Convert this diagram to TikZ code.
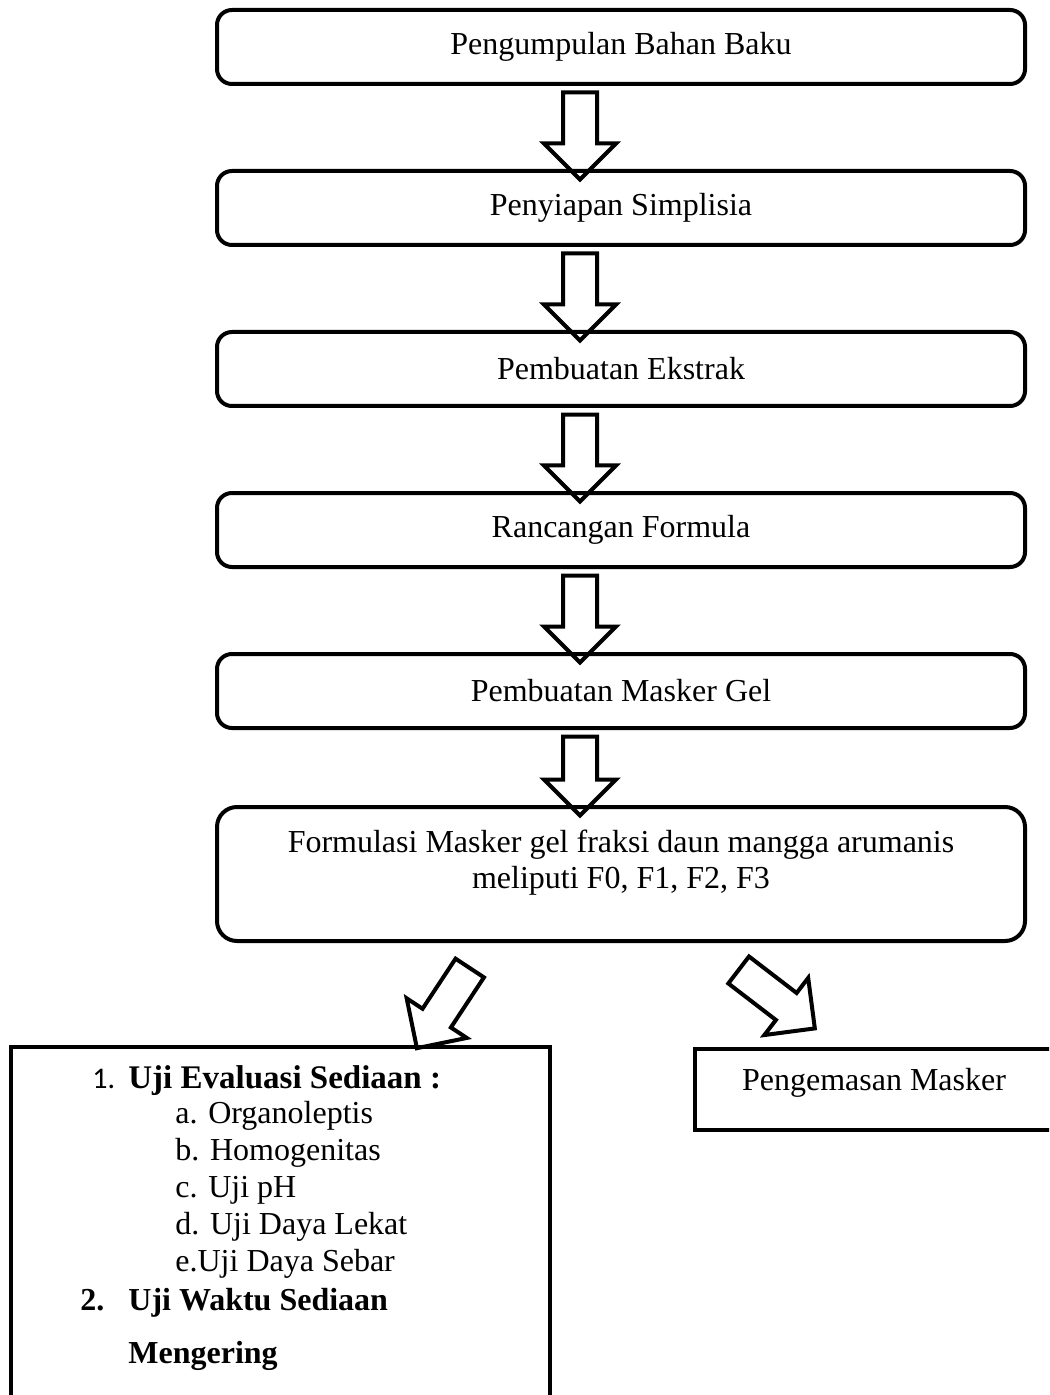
\documentclass[tikz,border=0pt]{standalone}
\usepackage{fontspec}
\setmainfont{Liberation Serif}
\newfontfamily\numfont{Carlito}
\usetikzlibrary{shapes.arrows, positioning, calc}
\tikzstyle{block} = [rectangle, draw, line width=2pt, rounded corners=7.5pt, minimum width=404pt, minimum height=37pt, align=center, font=\fontsize{16}{18}\selectfont]
\tikzstyle{plainbox} = [rectangle, draw, line width=2pt, font=\fontsize{16}{18}\selectfont]
\tikzstyle{hollow} = [single arrow, draw, line width=2pt, inner xsep=0pt, inner ysep=7.5pt, single arrow head extend=9.5pt, single arrow tip angle=90]
\tikzstyle{item} = [anchor=base west, inner sep=0pt, font=\fontsize{16}{18}\selectfont]
\tikzstyle{bolditem} = [item, font=\bfseries\fontsize{16}{18}\selectfont]

\begin{document}
\begin{tikzpicture}[x=0.5pt, y=-0.5pt, node distance=41.5pt]
\useasboundingbox (0,0) rectangle (1049,1395);
\clip (0,0) rectangle (1049,1395);

% Main steps
\node [block] (collect) at (621,47) {Pengumpulan Bahan Baku};
\node [block, below=of collect] (simplisia) {Penyiapan Simplisia};
\node [block, below=of simplisia] (extract) {Pembuatan Ekstrak};
\node [block, below=of extract] (formula) {Rancangan Formula};
\node [block, below=of formula] (gel) {Pembuatan Masker Gel};
\node [block, below=37.5pt of gel, minimum height=67pt, rounded corners=10pt, text depth=14.8pt] (variant) {Formulasi Masker gel fraksi daun mangga arumanis\\meliputi F0, F1, F2, F3};

% Hollow arrows between steps
\foreach \from/\to in {collect/simplisia, simplisia/extract, extract/formula, formula/gel}
  \node [hollow, rotate=-90, minimum height=43.5pt] (\from-arrow) at ($(\from.south)!0.5!(\to.north)+(-41,0)$) {};
\node [hollow, rotate=-90, minimum height=39.5pt] (gel-arrow) at ($(gel.south)!0.5!(variant.north)+(-41,0)$) {};

% Outputs
\node [plainbox, minimum width=269.5pt, minimum height=186.5pt] (tests) at (280.5,1233.5) {};
\node [plainbox, minimum width=179pt, minimum height=40.5pt, text depth=10.4pt] (packing) at (874,1089.5) {Pengemasan Masker};
\node [hollow, rotate=236.6, minimum height=48pt] (tests-arrow) at (448,1001) {};
\node [hollow, rotate=-37.5, minimum height=48pt] (packing-arrow) at (770,994) {};

% Test list
\node [item, font=\numfont\fontsize{15}{18}\selectfont] (num1) at (92,1088) {1.};
\node [bolditem, font=\bfseries\fontsize{16.5}{18}\selectfont] (head1) at (128,1088) {Uji Evaluasi Sediaan\ :};
\foreach \txt [count=\i from 0] in {a. Organoleptis, b. Homogenitas, c. Uji pH, d. Uji Daya Lekat, e.Uji Daya Sebar}
  \node [item] (sub\i) at (175,{1123+37*\i}) {\txt};
\node [bolditem] (num2) at (80,1310) {2.};
\node [bolditem] (head2) at (128,1310) {Uji Waktu Sediaan};
\node [bolditem] (head3) at (128,1363) {Mengering};
\end{tikzpicture}
\end{document}
